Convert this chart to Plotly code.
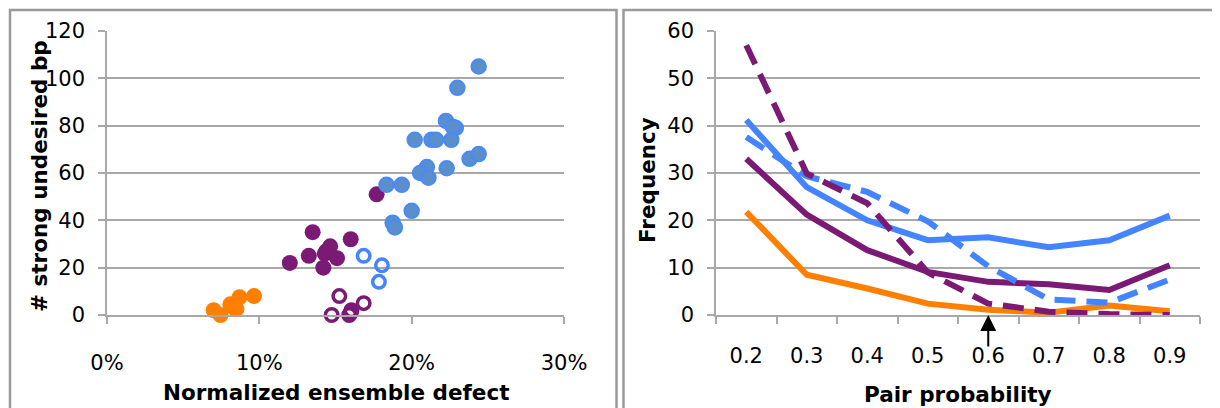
import plotly.graph_objects as go

# ---------------- Left panel data (scatter) ----------------
orange_x = [0.070, 0.0745, 0.081, 0.0835, 0.085, 0.087, 0.0965]
orange_y = [2, 0, 4.5, 3, 2.5, 7.5, 8]

purple_fill_x = [0.120, 0.1325, 0.135, 0.142, 0.143, 0.1465, 0.151, 0.160, 0.177, 0.144]
purple_fill_y = [22, 25, 35, 20, 26, 29, 24, 32, 51, 27]

purple_open_x = [0.1475, 0.1525, 0.159, 0.1605, 0.1685, 0.160]
purple_open_y = [0, 8, 0, 2, 5, 1]

blue_open_x = [0.1685, 0.1805, 0.1785]
blue_open_y = [25, 21, 14]

blue_fill_x = [0.244, 0.230, 0.2225, 0.229, 0.227, 0.202, 0.213, 0.216, 0.226, 0.238,
               0.244, 0.210, 0.2055, 0.211, 0.223, 0.1835, 0.1935, 0.200, 0.1875, 0.189]
blue_fill_y = [105, 96, 82, 79, 79.5, 74, 74, 74, 74, 66,
               68, 62.5, 60, 58, 62, 55, 55, 44, 39, 37]

x_ticks_left = [0, 0.1, 0.2, 0.3]
y_ticks_left = [0, 20, 40, 60, 80, 100, 120]

# ---------------- Right panel data (lines) ----------------
categories = ["0.2", "0.3", "0.4", "0.5", "0.6", "0.7", "0.8", "0.9"]
blue_solid = [41.2, 27.0, 20.0, 15.8, 16.4, 14.3, 15.8, 21.0]
blue_dash = [37.6, 29.3, 26.0, 19.8, 10.3, 3.3, 2.6, 7.5]
purple_solid = [33.0, 21.2, 13.7, 9.1, 7.0, 6.5, 5.3, 10.5]
purple_dash = [57.0, 29.9, 23.6, 9.0, 2.4, 0.7, 0.2, 0.0]
orange_solid = [21.8, 8.5, 5.6, 2.4, 1.1, 0.5, 2.0, 0.8]
y_ticks_right = [0, 10, 20, 30, 40, 50, 60]
arrow_category = "0.6"

# ---------------- Styles ----------------
OFF = 8                      # page body margin
W, H = 1220 - OFF, 408 - OFF
ORANGE = "#ff7f00"
PURPLE = "#7b1a75"
BLUE_LINE = "#4485ff"
BLUE_FILL = "#5b8fca"
BLUE_EDGE = "#4a8af8"
GRID = "#a8a8a8"
FONT = "DejaVu Sans, Liberation Sans, Arial, sans-serif"

fig = go.Figure()

# Left scatter traces
fig.add_trace(go.Scatter(x=orange_x, y=orange_y, mode="markers", cliponaxis=False,
                         marker=dict(size=16, color=ORANGE, line=dict(width=0)),
                         xaxis="x", yaxis="y"))
fig.add_trace(go.Scatter(x=purple_fill_x, y=purple_fill_y, mode="markers", cliponaxis=False,
                         marker=dict(size=16, color=PURPLE, line=dict(width=0)),
                         xaxis="x", yaxis="y"))
fig.add_trace(go.Scatter(x=purple_open_x, y=purple_open_y, mode="markers", cliponaxis=False,
                         marker=dict(size=12.5, symbol="circle-open", color=PURPLE,
                                     line=dict(width=3.5, color=PURPLE)),
                         xaxis="x", yaxis="y"))
fig.add_trace(go.Scatter(x=blue_open_x, y=blue_open_y, mode="markers", cliponaxis=False,
                         marker=dict(size=12.5, symbol="circle-open", color=BLUE_LINE,
                                     line=dict(width=3.5, color=BLUE_LINE)),
                         xaxis="x", yaxis="y"))
fig.add_trace(go.Scatter(x=blue_fill_x, y=blue_fill_y, mode="markers", cliponaxis=False,
                         marker=dict(size=14.5, color=BLUE_FILL, line=dict(width=2, color=BLUE_EDGE)),
                         xaxis="x", yaxis="y"))

# Right line traces
LW = 6
DASH = "21px,11px"
fig.add_trace(go.Scatter(x=categories, y=blue_solid, mode="lines", cliponaxis=False,
                         line=dict(color=BLUE_LINE, width=LW), xaxis="x2", yaxis="y2"))
fig.add_trace(go.Scatter(x=categories, y=purple_solid, mode="lines", cliponaxis=False,
                         line=dict(color=PURPLE, width=LW), xaxis="x2", yaxis="y2"))
fig.add_trace(go.Scatter(x=categories, y=orange_solid, mode="lines", cliponaxis=False,
                         line=dict(color=ORANGE, width=LW), xaxis="x2", yaxis="y2"))
fig.add_trace(go.Scatter(x=categories, y=blue_dash, mode="lines", cliponaxis=False,
                         line=dict(color=BLUE_LINE, width=LW, dash=DASH), xaxis="x2", yaxis="y2"))
fig.add_trace(go.Scatter(x=categories, y=purple_dash, mode="lines", cliponaxis=False,
                         line=dict(color=PURPLE, width=LW, dash=DASH), xaxis="x2", yaxis="y2"))

def px_x(p):
    return (p - OFF) / W

def px_y(p):
    return 1 - (p - OFF) / H

tick_font = dict(family=FONT, size=21, color="black")
common_axis = dict(showline=True, linecolor=GRID, linewidth=1.5, ticks="outside",
                   tickcolor=GRID, tickwidth=1.5, ticklen=7, tickfont=tick_font,
                   zeroline=False, automargin=False)

fig.update_layout(
    width=W, height=H, autosize=False,
    margin=dict(l=0, r=0, t=0, b=0, pad=0, autoexpand=False),
    paper_bgcolor="white", plot_bgcolor="white",
    showlegend=False,
    xaxis=dict(domain=[px_x(107), px_x(564)], range=[0, 0.30], tickvals=x_ticks_left,
               tickformat=".0%", showgrid=False, anchor="y",
               ticklabelstandoff=21, **common_axis),
    yaxis=dict(domain=[px_y(315), px_y(31)], range=[0, 120], tickvals=y_ticks_left,
               showgrid=True, gridcolor=GRID, gridwidth=1.5, anchor="x",
               ticklabelstandoff=9, **common_axis),
    xaxis2=dict(domain=[px_x(716), px_x(1200)], type="category", range=[-0.5, 7.5],
                tickson="boundaries", showgrid=False, anchor="y2",
                ticklabelstandoff=21, **common_axis),
    yaxis2=dict(domain=[px_y(315), px_y(31)], range=[0, 60], tickvals=y_ticks_right,
                showgrid=True, gridcolor=GRID, gridwidth=1.5, anchor="x2",
                ticklabelstandoff=9, **common_axis),
)

title_font = dict(family=FONT, size=21.5, color="black")
annotations = [
    dict(text="<b>Normalized ensemble defect</b>", x=px_x(336), y=px_y(392), xref="paper", yref="paper",
         showarrow=False, font=title_font, xanchor="center", yanchor="middle"),
    dict(text="<b># strong undesired bp</b>", x=px_x(40), y=px_y(176), xref="paper", yref="paper",
         showarrow=False, font=title_font, textangle=-90, xanchor="center", yanchor="middle"),
    dict(text="<b>Pair probability</b>", x=px_x(958), y=px_y(394), xref="paper", yref="paper",
         showarrow=False, font=title_font, xanchor="center", yanchor="middle"),
    dict(text="<b>Frequency</b>", x=px_x(648), y=px_y(180), xref="paper", yref="paper",
         showarrow=False, font=title_font, textangle=-90, xanchor="center", yanchor="middle"),
    dict(text="", x=categories.index(arrow_category), y=0, xref="x2", yref="y2", showarrow=True,
         ax=0, ay=33, arrowhead=2, arrowsize=1.6,
         arrowwidth=2, arrowcolor="black", standoff=0),
]
fig.update_layout(annotations=annotations)

# Panel borders
border = dict(color="#9a9a9a", width=2.5)
fig.update_layout(shapes=[
    dict(type="rect", xref="paper", yref="paper", x0=px_x(10), x1=px_x(616.5),
         y0=px_y(420), y1=px_y(10), line=border, layer="below"),
    dict(type="rect", xref="paper", yref="paper", x0=px_x(623.5), x1=px_x(1240),
         y0=px_y(420), y1=px_y(10), line=border, layer="below"),
])

fig.write_html("out.html")
